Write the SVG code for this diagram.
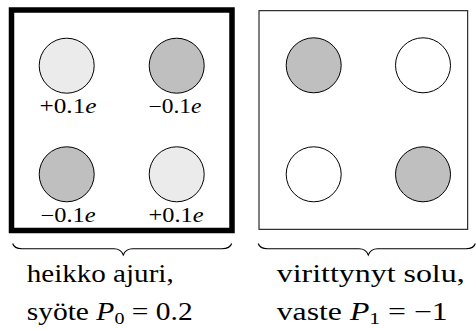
<svg xmlns="http://www.w3.org/2000/svg" width="476" height="329" viewBox="0 0 476 329">
<style>
.light{fill:#ebebeb;stroke:#000;stroke-width:1}
.dark{fill:#bfbfbf;stroke:#000;stroke-width:1}
.white{fill:#fff;stroke:#000;stroke-width:1}
.brace{fill:none;stroke:#000;stroke-width:1.1}
</style>
<rect width="476" height="329" fill="#fff"/>
<g id="driver">
<rect x="11.5" y="10" width="220.5" height="220.5" fill="#fff" stroke="#000" stroke-width="5.5"/>
<g font-family="'Liberation Serif', serif" font-size="20" fill="#000">
<g id="d1"><circle class="light" cx="66.7" cy="65.7" r="27.5"/><text x="39.5" y="113.3" textLength="57" lengthAdjust="spacingAndGlyphs">+0.1<tspan font-style="italic">e</tspan></text></g>
<g id="d2"><circle class="dark" cx="176.7" cy="65.7" r="27.5"/><text x="148.5" y="113.3" textLength="53" lengthAdjust="spacingAndGlyphs">−0.1<tspan font-style="italic">e</tspan></text></g>
<g id="d3"><circle class="dark" cx="66.7" cy="174.3" r="27.5"/><text x="40.5" y="222.3" textLength="55" lengthAdjust="spacingAndGlyphs">−0.1<tspan font-style="italic">e</tspan></text></g>
<g id="d4"><circle class="light" cx="176.7" cy="174.3" r="27.5"/><text x="148.5" y="222.3" textLength="55" lengthAdjust="spacingAndGlyphs">+0.1<tspan font-style="italic">e</tspan></text></g>
</g>
</g>
<g id="cell">
<rect x="259" y="10.7" width="208.7" height="218.6" fill="#fff" stroke="#000" stroke-width="1"/>
<circle class="dark" cx="313.7" cy="65.3" r="27.5"/>
<circle class="white" cx="423" cy="65.3" r="27.5"/>
<circle class="white" cx="313.7" cy="174.3" r="27.5"/>
<circle class="dark" cx="423" cy="174.3" r="27.5"/>
</g>
<g id="connectors">
<path class="brace" d="M12.7,243.5 Q14,248.7 22,248.7 L114,248.7 Q121,248.7 123.3,255 Q125.6,248.7 132.6,248.7 L222,248.7 Q230,248.7 231.7,243.5"/>
<path class="brace" d="M258.3,243.5 Q259.6,248.7 267.6,248.7 L359,248.7 Q366,248.7 368.3,255 Q370.6,248.7 377.6,248.7 L466,248.7 Q474,248.7 475.3,243.5"/>
</g>
<g id="captions" font-family="'Liberation Serif', serif" font-size="25" fill="#000">
<text x="26.7" y="282" textLength="147" lengthAdjust="spacingAndGlyphs">heikko ajuri,</text>
<text x="26.7" y="320" textLength="166" lengthAdjust="spacingAndGlyphs">syöte <tspan font-style="italic">P</tspan><tspan font-size="17" dy="4">0</tspan><tspan dy="-4"> = 0.2</tspan></text>
<text x="276.7" y="282" textLength="188" lengthAdjust="spacingAndGlyphs">virittynyt solu,</text>
<text x="276.7" y="320" textLength="171" lengthAdjust="spacingAndGlyphs">vaste <tspan font-style="italic">P</tspan><tspan font-size="17" dy="4">1</tspan><tspan dy="-4"> = −1</tspan></text>
</g>
</svg>
